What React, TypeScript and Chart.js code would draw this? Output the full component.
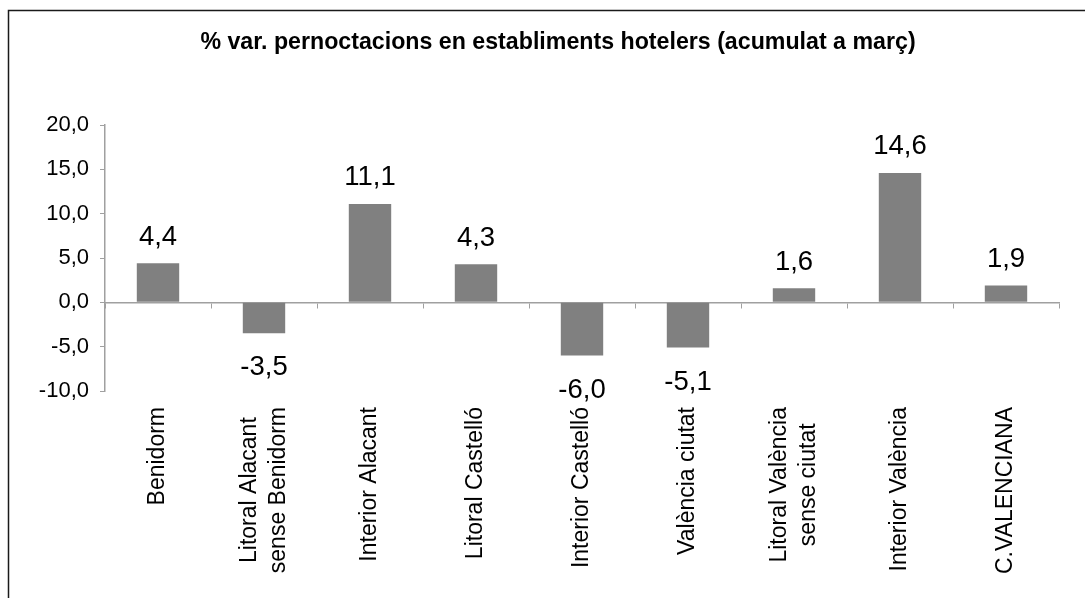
import { useEffect, useRef } from "react";
import { Chart, registerables } from "chart.js";

Chart.register(...registerables);

const categories: string[][] = [
  ["Benidorm"],
  ["Litoral Alacant", "sense Benidorm"],
  ["Interior Alacant"],
  ["Litoral Castelló"],
  ["Interior Castelló"],
  ["València ciutat"],
  ["Litoral València", "sense ciutat"],
  ["Interior València"],
  ["C.VALENCIANA"],
];
const values = [4.4, -3.5, 11.1, 4.3, -6.0, -5.1, 1.6, 14.6, 1.9];
const yMin = -10;
const yMax = 20;
const yStep = 5;
const title = "% var. pernoctacions en establiments hotelers (acumulat a març)";

const FONT = '"Liberation Sans", Arial, Helvetica, sans-serif';
const fmt = (v: number) => v.toFixed(1).replace(".", ",");

export default function App() {
  const ref = useRef<HTMLCanvasElement | null>(null);

  useEffect(() => {
    if (!ref.current) return;

    const framePlugin = {
      id: "frame",
      beforeDraw(chart: any) {
        const ctx = chart.ctx;
        ctx.save();
        ctx.fillStyle = "#ffffff";
        ctx.fillRect(0, 0, chart.width, chart.height);
        ctx.strokeStyle = "#1a1a1a";
        ctx.lineWidth = 1.5;
        ctx.beginPath();
        ctx.moveTo(8.5, chart.height + 5);
        ctx.lineTo(8.5, 10.5);
        ctx.lineTo(chart.width + 5, 10.5);
        ctx.stroke();
        // title
        ctx.fillStyle = "#000";
        ctx.font = `bold 23.2px ${FONT}`;
        ctx.textAlign = "center";
        ctx.textBaseline = "alphabetic";
        ctx.fillText(title, 558, 49);
        ctx.restore();
      },
    };

    const labelsPlugin = {
      id: "labels",
      afterDatasetsDraw(chart: any) {
        const ctx = chart.ctx;
        const meta = chart.getDatasetMeta(0);
        ctx.save();
        ctx.fillStyle = "#000";
        ctx.font = `27.5px ${FONT}`;
        ctx.textAlign = "center";
        ctx.textBaseline = "alphabetic";
        meta.data.forEach((bar: any, i: number) => {
          const v = values[i];
          const p = bar.getProps(["x", "y", "base"], true);
          if (v >= 0) {
            ctx.fillText(fmt(v), p.x, p.y - 18.5);
          } else {
            ctx.fillText(fmt(v), p.x, p.y + 42);
          }
        });
        ctx.restore();
      },
      afterDraw(chart: any) {
        const ctx = chart.ctx;
        const xs = chart.scales.x;
        const top = chart.chartArea.bottom + 16;
        const lh = 28.5;
        ctx.save();
        ctx.fillStyle = "#000";
        ctx.font = `23px ${FONT}`;
        ctx.textAlign = "center";
        ctx.textBaseline = "middle";
        categories.forEach((lines, i) => {
          const cx = xs.getPixelForValue(i);
          const maxW = Math.max(...lines.map((l) => ctx.measureText(l).width));
          const cy = top + maxW / 2;
          lines.forEach((line, j) => {
            const lx = cx + (j - (lines.length - 1) / 2) * lh;
            ctx.save();
            ctx.translate(lx, cy);
            ctx.rotate(-Math.PI / 2);
            ctx.fillText(line, 0, 0);
            ctx.restore();
          });
        });
        ctx.restore();
      },
    };

    const chart = new Chart(ref.current, {
      type: "bar",
      data: {
        labels: categories.map((c) => c.join(" ")),
        datasets: [
          {
            data: values,
            backgroundColor: "#808080",
            borderWidth: 0,
            barPercentage: 0.4,
            categoryPercentage: 1.0,
          },
        ],
      },
      options: {
        responsive: false,
        animation: false,
        layout: { padding: { left: 0, right: 26, top: 125, bottom: 207 } },
        plugins: {
          legend: { display: false },
          title: { display: false },
          tooltip: { enabled: false },
        },
        scales: {
          x: {
            position: { y: 0 } as any,
            offset: true,
            ticks: { display: false },
            grid: {
              display: true,
              offset: true,
              drawOnChartArea: false,
              drawTicks: true,
              tickLength: 5,
              color: "#a0a0a0",
              lineWidth: 1,
            },
            border: { display: true, color: "#a0a0a0", width: 1.5 },
          },
          y: {
            min: yMin,
            max: yMax,
            afterFit: (s: any) => {
              s.width = 105;
            },
            ticks: {
              stepSize: yStep,
              color: "#000",
              padding: 11,
              font: { family: FONT, size: 22 },
              callback: (v: any) => fmt(Number(v)),
            },
            grid: {
              display: true,
              drawOnChartArea: false,
              drawTicks: true,
              tickLength: 5,
              color: "#a0a0a0",
            },
            border: { display: true, color: "#a0a0a0", width: 1.5 },
          },
        },
      },
      plugins: [framePlugin, labelsPlugin],
    });

    return () => chart.destroy();
  }, []);

  return (
    <div style={{ position: "fixed", left: 0, top: 0, width: 1085, height: 598, background: "#fff" }}>
      <canvas ref={ref} width={1085} height={598} style={{ display: "block" }} />
    </div>
  );
}
